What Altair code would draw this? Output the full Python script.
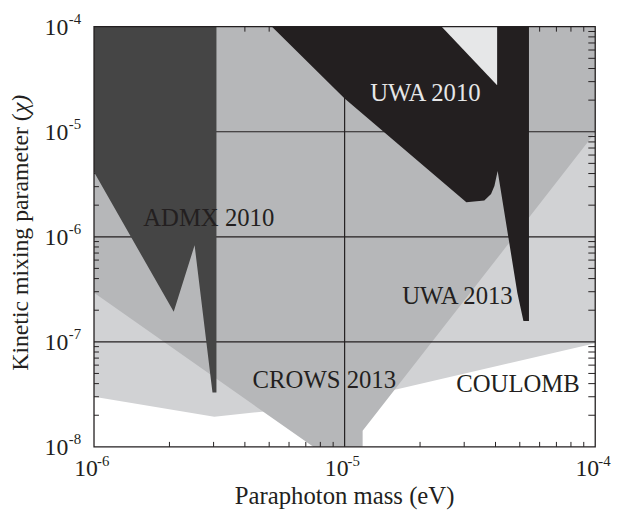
import altair as alt
import pandas as pd

# ---- excluded regions (vertices, in data units) ----
coulomb_x = [1e-6, 1e-4, 1e-4, 1.62e-5, 4.68e-6, 3.02e-6, 1e-6]
coulomb_y = [1e-4, 1e-4, 9.67e-8, 3.54e-8, 2.16e-8, 1.94e-8, 3.0e-8]

crows_uwa13_x = [1e-6, 1e-4, 1e-4, 1.18e-5, 1.18e-5, 7.5e-6, 1e-6]
crows_uwa13_y = [1e-4, 1e-4, 9.84e-6, 1.42e-8, 1e-8, 1e-8, 2.94e-7]

admx_x = [1e-6, 3.08e-6, 3.08e-6, 2.97e-6, 2.52e-6, 2.08e-6, 1e-6]
admx_y = [1e-4, 1e-4, 3.29e-8, 3.29e-8, 8.3e-7, 1.93e-7, 4.13e-6]

uwa10_x = [5.13e-6, 5.44e-5, 5.44e-5, 5.17e-5, 4.89e-5, 4.50e-5, 4.08e-5,
           3.96e-5, 3.84e-5, 3.61e-5, 3.06e-5, 1.0e-5]
uwa10_y = [1e-4, 1e-4, 1.58e-7, 1.58e-7, 2.92e-7, 9.96e-7, 4.23e-6,
           3.05e-6, 2.55e-6, 2.21e-6, 2.13e-6, 2.07e-5]

gap_x = [2.44e-5, 4.06e-5, 4.06e-5]
gap_y = [1e-4, 1e-4, 2.77e-5]

# ---- region labels ----
label_text = ["ADMX 2010", "UWA 2010", "UWA 2013", "CROWS 2013", "COULOMB"]
label_x = [2.87e-6, 2.10e-5, 2.82e-5, 8.30e-6, 4.92e-5]
label_y = [1.28e-6, 1.97e-5, 2.30e-7, 3.65e-8, 3.30e-8]
label_color = ["#231f20", "#e6e7e8", "#231f20", "#231f20", "#231f20"]

# ---- axes ----
x_decades = [1e-6, 1e-5, 1e-4]
x_exps = ["-6", "-5", "-4"]
y_decades = [1e-8, 1e-7, 1e-6, 1e-5, 1e-4]
y_exps = ["-8", "-7", "-6", "-5", "-4"]
x_grid = [1e-5]
y_grid = [1e-7, 1e-6, 1e-5]
x_minor = [m * 10.0 ** e for e in (-6, -5) for m in range(2, 10)]
y_minor = [m * 10.0 ** e for e in (-8, -7, -6, -5) for m in range(2, 10)]

W, H = 507, 425
FONT = "Liberation Serif"
INK = "#231f20"

xs = alt.Scale(type="log", domain=[1e-6, 1e-4], nice=False)
ys = alt.Scale(type="log", domain=[1e-8, 1e-4], nice=False)


def X(f="x"):
    return alt.X(f"{f}:Q", scale=xs, axis=None)


def Y(f="y"):
    return alt.Y(f"{f}:Q", scale=ys, axis=None)


def polygon(xv, yv, color):
    df = pd.DataFrame({"x": xv, "y": yv, "i": list(range(len(xv)))})
    return alt.Chart(df).mark_line(fill=color, strokeWidth=0, strokeOpacity=0).encode(
        x=X(), y=Y(), order="i:Q")


layers = []
layers.append(polygon(coulomb_x, coulomb_y, "#d1d2d4"))
layers.append(polygon(crows_uwa13_x, crows_uwa13_y, "#b6b7b9"))

# grid lines
layers.append(alt.Chart(pd.DataFrame({"x": x_grid})).mark_rule(color=INK, strokeWidth=1.2)
              .encode(x=X()))
layers.append(alt.Chart(pd.DataFrame({"y": y_grid})).mark_rule(color=INK, strokeWidth=1.2)
              .encode(y=Y()))

# inward minor ticks
xm = pd.DataFrame({"x": x_minor})
ym = pd.DataFrame({"y": y_minor})
layers.append(alt.Chart(xm).mark_rule(color=INK, strokeWidth=1)
              .encode(x=X(), y=alt.value(H), y2=alt.value(H - 5)))
layers.append(alt.Chart(xm).mark_rule(color=INK, strokeWidth=1)
              .encode(x=X(), y=alt.value(0), y2=alt.value(5)))
layers.append(alt.Chart(ym).mark_rule(color=INK, strokeWidth=1)
              .encode(y=Y(), x=alt.value(0), x2=alt.value(5)))
layers.append(alt.Chart(ym).mark_rule(color=INK, strokeWidth=1)
              .encode(y=Y(), x=alt.value(W), x2=alt.value(W - 7)))

layers.append(polygon(admx_x, admx_y, "#454545"))
layers.append(polygon(uwa10_x, uwa10_y, INK))
layers.append(polygon(gap_x, gap_y, "#e6e7e8"))

# frame
layers.append(alt.Chart(pd.DataFrame({"k": [0]})).mark_rect(
    fillOpacity=0, stroke=INK, strokeWidth=1.3).encode(
    x=alt.value(0), x2=alt.value(W), y=alt.value(0), y2=alt.value(H)))

# region labels
lab = pd.DataFrame({"x": label_x, "y": label_y, "t": label_text, "c": label_color})
layers.append(alt.Chart(lab).mark_text(font=FONT, fontSize=25, align="center",
                                       baseline="alphabetic").encode(
    x=X(), y=Y(), text="t:N", color=alt.Color("c:N", scale=None)))

# tick labels
xd = pd.DataFrame({"x": x_decades, "e": x_exps, "b": ["10"] * len(x_decades)})
yd = pd.DataFrame({"y": y_decades, "e": y_exps, "b": ["10"] * len(y_decades)})
layers.append(alt.Chart(xd).mark_text(font=FONT, fontSize=24, align="right",
                                      baseline="alphabetic", dx=4, color=INK).encode(
    x=X(), y=alt.value(H + 29), text="b:N"))
layers.append(alt.Chart(xd).mark_text(font=FONT, fontSize=15, align="left",
                                      baseline="alphabetic", dx=3, color=INK).encode(
    x=X(), y=alt.value(H + 19), text="e:N"))
layers.append(alt.Chart(yd).mark_text(font=FONT, fontSize=24, align="right",
                                      baseline="alphabetic", dy=8, color=INK).encode(
    y=Y(), x=alt.value(-26), text="b:N"))
layers.append(alt.Chart(yd).mark_text(font=FONT, fontSize=15, align="right",
                                      baseline="alphabetic", dy=-3, color=INK).encode(
    y=Y(), x=alt.value(-13), text="e:N"))

# axis titles
one = pd.DataFrame({"k": [0]})
layers.append(alt.Chart(one).mark_text(font=FONT, fontSize=25, align="center",
                                       baseline="alphabetic", color=INK,
                                       text="Paraphoton mass (eV)").encode(
    x=alt.value(W / 2), y=alt.value(H + 58)))
layers.append(alt.Chart(one).mark_text(font=FONT, fontSize=24, align="left",
                                       baseline="alphabetic", angle=270, color=INK,
                                       text="Kinetic mixing parameter (").encode(
    x=alt.value(-67), y=alt.value(348)))
layers.append(alt.Chart(one).mark_text(font=FONT, fontSize=24, align="left",
                                       baseline="alphabetic", angle=270, color=INK,
                                       fontStyle="italic", text="\u03c7)").encode(
    x=alt.value(-67), y=alt.value(348 - 260.6)))

chart = alt.layer(*layers).properties(
    width=W, height=H,
    padding={"left": 87, "top": 16, "right": 20, "bottom": 66},
    autosize=alt.AutoSizeParams(type="none"),
).configure_view(strokeWidth=0)

chart.save("out.html", embed_options={"renderer": "svg", "actions": False})
